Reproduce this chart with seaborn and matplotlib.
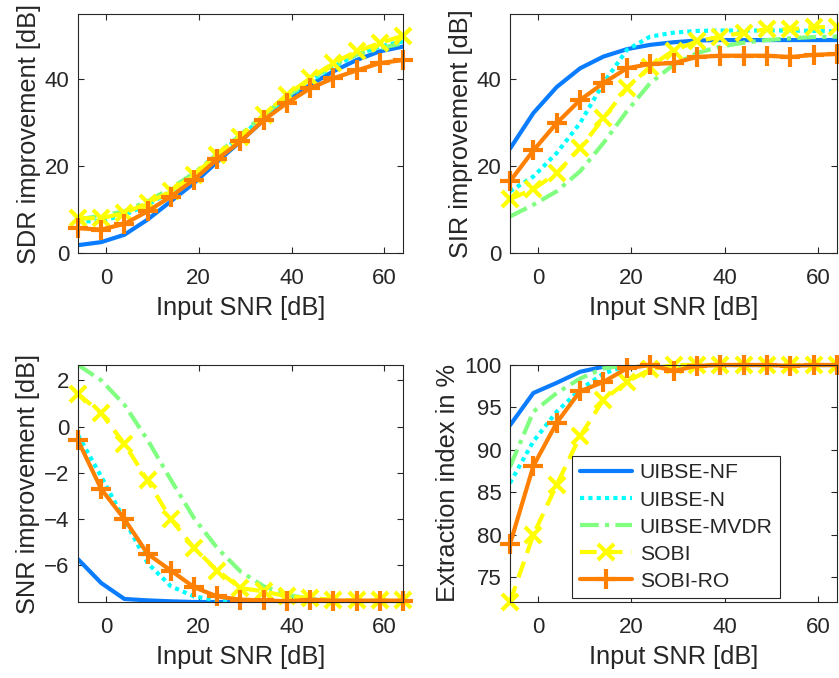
import matplotlib
matplotlib.use("Agg")
import matplotlib.pyplot as plt
import seaborn as sns
import pandas as pd
import numpy as np

# ---------------- data ----------------
snr = [-6, -1, 4, 9, 14, 19, 24, 29, 34, 39, 44, 49, 54, 59, 64]
methods = ["UIBSE-NF", "UIBSE-N", "UIBSE-MVDR", "SOBI", "SOBI-RO"]

sdr_nf   = [1.8, 2.5, 4.2, 7.7, 11.9, 16.1, 21.0, 25.7, 30.6, 34.9, 38.7, 41.8, 44.4, 46.4, 47.5]
sdr_n    = [7.3, 7.3, 8.8, 11.1, 14.2, 18.0, 22.6, 26.8, 31.4, 35.8, 39.5, 42.9, 45.6, 47.5, 48.7]
sdr_mvdr = [7.7, 8.6, 9.6, 11.9, 14.9, 18.4, 22.8, 27.2, 31.8, 36.0, 39.8, 43.3, 45.6, 47.1, 48.3]
sdr_sobi = [8.0, 8.0, 9.2, 11.5, 14.2, 18.0, 22.6, 26.8, 31.8, 36.4, 40.2, 43.7, 46.4, 48.3, 50.0]
sdr_ro   = [5.7, 5.4, 6.7, 9.6, 13.0, 16.9, 21.6, 25.7, 30.6, 34.5, 37.9, 40.2, 42.0, 43.7, 44.4]

sir_nf   = [24.0, 32.2, 38.2, 42.5, 45.2, 46.9, 47.9, 48.5, 48.9, 49.0, 49.0, 49.0, 49.0, 49.0, 49.0]
sir_n    = [14.2, 17.6, 23.0, 29.9, 39.1, 46.7, 49.8, 50.7, 51.1, 51.2, 51.2, 51.2, 51.2, 51.1, 51.0]
sir_mvdr = [8.4, 11.1, 14.2, 18.8, 25.3, 32.6, 39.1, 43.3, 46.0, 47.5, 48.4, 49.0, 49.4, 49.7, 49.8]
sir_sobi = [12.4, 14.7, 18.4, 24.1, 31.0, 37.9, 42.9, 46.6, 48.7, 49.8, 50.7, 51.5, 51.5, 52.0, 52.0]
sir_ro   = [16.5, 23.6, 29.9, 35.2, 39.1, 42.5, 43.5, 43.7, 45.1, 45.4, 45.4, 45.4, 45.1, 45.6, 45.8]

snri_nf   = [-5.73, -6.76, -7.45, -7.51, -7.55, -7.58, -7.58, -7.58, -7.58, -7.58, -7.58, -7.58, -7.58, -7.58, -7.58]
snri_n    = [-0.36, -2.16, -4.03, -5.90, -6.90, -7.34, -7.51, -7.55, -7.56, -7.56, -7.56, -7.56, -7.56, -7.56, -7.56]
snri_mvdr = [2.66, 2.00, 0.94, -0.58, -2.30, -3.96, -5.25, -6.26, -6.90, -7.27, -7.45, -7.50, -7.55, -7.55, -7.55]
snri_sobi = [1.41, 0.58, -0.75, -2.33, -4.00, -5.25, -6.22, -6.98, -7.12, -7.34, -7.41, -7.48, -7.51, -7.51, -7.51]
snri_ro   = [-0.60, -2.70, -4.00, -5.50, -6.22, -6.94, -7.34, -7.48, -7.51, -7.55, -7.48, -7.52, -7.52, -7.52, -7.52]

ext_nf   = [92.9, 96.7, 97.9, 99.2, 99.8, 100, 100, 100, 100, 100, 100, 100, 100, 100, 100]
ext_n    = [86.1, 91.0, 94.5, 97.1, 99.0, 99.9, 100, 100, 100, 100, 100, 100, 100, 100, 100]
ext_mvdr = [88.0, 94.5, 96.7, 98.4, 99.6, 100, 100, 100, 100, 100, 100, 100, 100, 100, 100]
ext_sobi = [72.1, 80.0, 85.9, 91.6, 95.9, 98.0, 99.5, 100, 100, 100, 100, 100, 100, 100, 100]
ext_ro   = [78.9, 88.1, 93.2, 96.9, 98.0, 99.6, 100, 99.3, 99.9, 100, 100, 100, 99.9, 100, 100]

panels = [
    ("SDR improvement [dB]", [sdr_nf, sdr_n, sdr_mvdr, sdr_sobi, sdr_ro], (0, 55), [0, 20, 40]),
    ("SIR improvement [dB]", [sir_nf, sir_n, sir_mvdr, sir_sobi, sir_ro], (0, 55), [0, 20, 40]),
    ("SNR improvement [dB]", [snri_nf, snri_n, snri_mvdr, snri_sobi, snri_ro], (-7.58, 2.66), [-6, -4, -2, 0, 2]),
    ("Extraction index in %", [ext_nf, ext_n, ext_mvdr, ext_sobi, ext_ro], (72.08, 100), [75, 80, 85, 90, 95, 100]),
]
xticks = [0, 20, 40, 60]

# ---------------- style ----------------
colors = ["#0A7CFF", "#00FFFF", "#80FF80", "#FFFF00", "#FF8000"]
styles = [
    dict(linestyle="-", marker=None),
    dict(linestyle=(0, (1.0, 1.0)), marker=None),
    dict(linestyle=(0, (4.5, 1.5, 1.0, 1.5)), marker=None),
    dict(linestyle=(0, (4.0, 2.2)), marker="x", markersize=11, markeredgewidth=3),
    dict(linestyle="-", marker="+", markersize=14, markeredgewidth=3),
]

sns.set_theme(style="ticks")
plt.rcParams["font.family"] = ["Liberation Sans", "DejaVu Sans"]
plt.rcParams["axes.edgecolor"] = "#262626"
plt.rcParams["xtick.color"] = "#262626"
plt.rcParams["ytick.color"] = "#262626"
plt.rcParams["axes.labelcolor"] = "#262626"

fig = plt.figure(figsize=(8.39, 6.78), dpi=100)
W, H = 839, 678
boxes = [
    (78, 14, 403, 253),
    (510, 14, 837, 253),
    (78, 365, 403, 602),
    (510, 365, 837, 602),
]

for i, (ylabel, series, ylim, yticks) in enumerate(panels):
    x0, y0, x1, y1 = boxes[i]
    ax = fig.add_axes([x0 / W, 1 - y1 / H, (x1 - x0) / W, (y1 - y0) / H])
    for name, vals, col, st in zip(methods, series, colors, styles):
        df = pd.DataFrame({"snr": snr, "val": vals})
        kw = dict(st)
        mk = kw.pop("marker")
        if mk is not None:
            kw["marker"] = mk
            kw["markeredgecolor"] = col
            kw["clip_on"] = False
        sns.lineplot(data=df, x="snr", y="val", ax=ax, color=col, linewidth=3,
                     label=name, legend=False, **kw)
    ax.set_xlim(-6, 64)
    ax.set_ylim(*ylim)
    ax.set_xticks(xticks)
    ax.set_yticks(yticks)
    ax.set_xlabel("Input SNR [dB]", fontsize=18.3, labelpad=5)
    ax.set_ylabel(ylabel, fontsize=18.3, labelpad=3)
    ax.tick_params(direction="in", top=True, right=True, labelsize=16,
                   length=4, width=0.8)
    ax.tick_params(axis="x", pad=11)
    ax.tick_params(axis="y", pad=6)
    for s in ax.spines.values():
        s.set_visible(True)
        s.set_linewidth(0.8)
        s.set_color("#262626")
    if i == 3:
        handles, labels = ax.get_legend_handles_labels()
        leg = ax.legend(handles, labels, loc="lower left", bbox_to_anchor=(0.19, 0.017),
                        fontsize=15.2, frameon=True, fancybox=False, framealpha=1,
                        edgecolor="#262626", handlelength=2.5, handletextpad=0.35,
                        labelspacing=0.38, borderpad=0.35, borderaxespad=0)
        leg.get_frame().set_linewidth(0.8)

fig.savefig("out.png", dpi=100)
